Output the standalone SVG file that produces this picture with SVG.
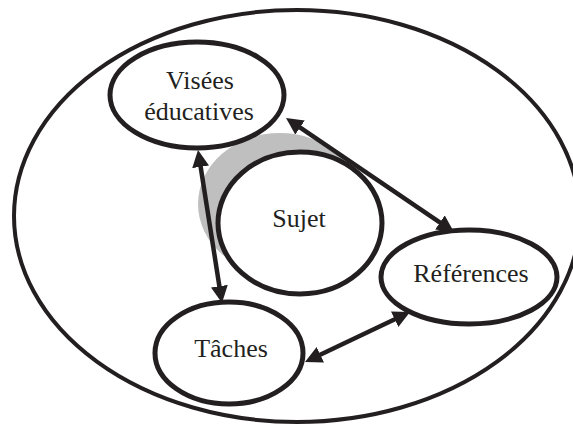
<svg xmlns="http://www.w3.org/2000/svg" width="573" height="427" viewBox="0 0 573 427">
  <style>
    .outer { fill: none; stroke: #231f20; stroke-width: 4; }
    .node { fill: #ffffff; stroke: #231f20; stroke-width: 5; }
    .shadow { fill: #bfbfbf; stroke: none; }
    .label { font-family: "Liberation Serif", "Times New Roman", serif; font-size: 26px; fill: #231f20; text-anchor: middle; }
    .conn { stroke: #231f20; stroke-width: 4.5; fill: none; marker-start: url(#arrow); marker-end: url(#arrow); }
  </style>
  <defs>
    <marker id="arrow" viewBox="0 0 17 17" refX="6" refY="8.5" markerWidth="17" markerHeight="17" markerUnits="userSpaceOnUse" orient="auto-start-reverse">
      <path d="M0,0 L17,8.5 L0,17 z" fill="#231f20"/>
    </marker>
  </defs>
  <rect width="573" height="427" fill="#ffffff"/>
  <g id="environnement">
    <ellipse class="outer" cx="297" cy="216" rx="283" ry="206"/>
  </g>
  <g id="sujet">
    <ellipse class="shadow" cx="280" cy="204" rx="82" ry="71"/>
    <ellipse class="node" cx="300" cy="223" rx="82" ry="71"/>
    <text class="label" x="299" y="227">Sujet</text>
  </g>
  <g id="visees">
    <ellipse class="node" cx="197" cy="95" rx="87" ry="53"/>
    <text class="label" x="200" y="89">Visées</text>
    <text class="label" x="199" y="120">éducatives</text>
  </g>
  <g id="taches">
    <ellipse class="node" cx="229" cy="353" rx="74" ry="51"/>
    <text class="label" x="231" y="357">Tâches</text>
  </g>
  <g id="references">
    <ellipse class="node" cx="469" cy="277" rx="88" ry="47"/>
    <text class="label" x="471" y="282">Références</text>
  </g>
  <g id="connecteurs">
    <line class="conn" x1="199.7" y1="160.9" x2="220.3" y2="292.1"/>
    <line class="conn" x1="295.1" y1="124.2" x2="444.9" y2="225.8"/>
    <line class="conn" x1="314.9" y1="357.3" x2="400.1" y2="316.7"/>
  </g>
</svg>
